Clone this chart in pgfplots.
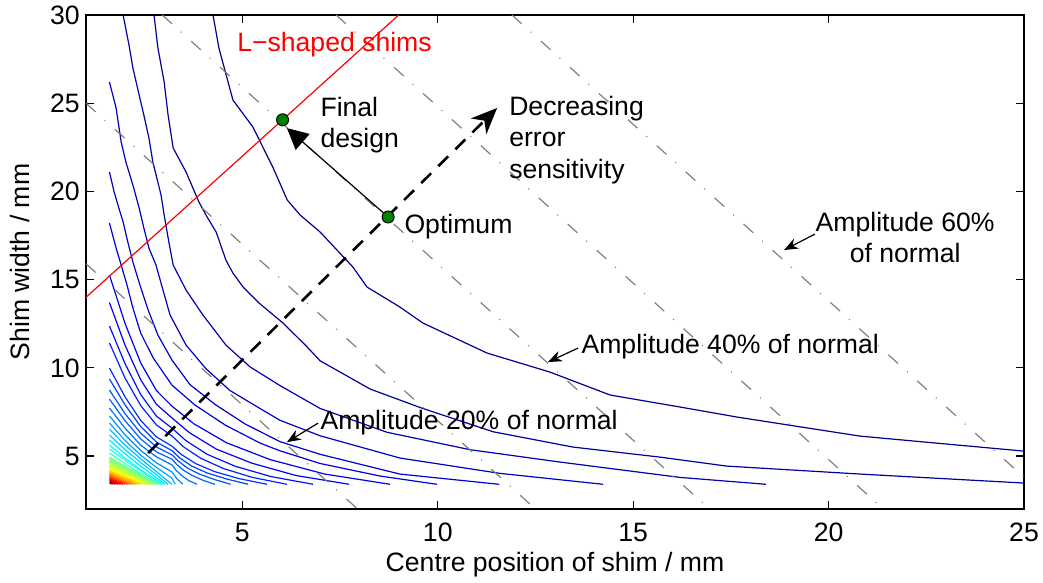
\documentclass[border=0pt]{standalone}
\usepackage{fontspec}
\setmainfont{Liberation Sans}
\usepackage{pgfplots}
\pgfplotsset{compat=1.18}
\usetikzlibrary{arrows.meta}
% contour line, jet colour given as 0-255 rgb
\newcommand\cl[4]{\addplot[cl, color={rgb,255:red,#1;green,#2;blue,#3}] coordinates {#4};}
\begin{document}
\begin{tikzpicture}[font=\fontsize{13.3}{15.5}\selectfont]
\begin{axis}[
  width=469pt, height=247pt, scale only axis,
  xmin=1, xmax=25, ymin=2, ymax=30,
  xtick={5,10,15,20,25}, ytick={5,10,15,20,25,30},
  tick align=inside, major tick length=4pt,
  tick style={black, line width=0.6pt},
  axis line style={black, line width=1pt},
  /pgf/number format/assume math mode=true,
  tick label style={font=\fontsize{13.3}{15}\selectfont, inner sep=0pt},
  xticklabel style={yshift=-7pt},
  yticklabel style={xshift=-3pt},
  label style={font=\fontsize{13.3}{15}\selectfont},
  xlabel={Centre position of shim / mm},
  ylabel={Shim width / mm},
  xlabel style={at={(axis description cs:0.5,-0.1134)}, anchor=center},
  ylabel style={at={(axis description cs:-0.0704,0.5)}, anchor=center},
  cl/.style={no markers, line width=0.6pt, line join=round},
  gl/.style={no markers, color={rgb,255:red,128;green,128;blue,128}, line width=0.6pt,
    dash pattern=on 6.5pt off 6pt on 0.5pt off 6.5pt},
]
% outer contours
\cl{0}{0}{143}{(4.25,30)(4.40,28.13)(4.76,25.18)(5.27,23.65)(5.79,21.33)(6.15,19.51)(6.48,18.66)(6.99,17.70)(7.83,15.71)(8.19,14.58)(9.03,13.45)(9.62,12.54)(11.26,10.84)(12.87,9.76)(14.41,8.46)(16.20,7.78)(17.66,7.21)(20.81,6.13)(25,5.28)}
\cl{0}{0}{159}{(2.74,30)(2.84,28.13)(3.00,26.20)(3.10,24.33)(3.23,22.46)(3.56,21.10)(3.89,19.40)(4.07,18.66)(4.33,17.70)(4.58,16.11)(4.76,15.37)(5.02,14.58)(5.43,13.67)(6.04,12.54)(6.63,11.25)(6.99,10.40)(8.27,8.80)(9.55,7.75)(11.41,6.38)(13.46,5.51)(15.69,4.94)(17.40,4.43)(20.81,3.98)(25,3.47)}
\cl{0}{0}{175}{(1.95,30)(2.10,28.30)(2.20,27.0)(2.36,25.46)(2.48,24.33)(2.61,23.03)(2.71,21.67)(2.92,19.80)(3.00,18.66)(3.12,17.13)(3.23,15.83)(3.56,14.41)(3.99,13.0)(4.58,11.29)(5.20,10.05)(5.96,9.0)(6.99,7.70)(8.70,6.35)(10.83,5.36)(13.13,4.66)(16.20,3.79)(18.40,3.4)}
\cl{0}{0}{191}{(1.6,26.20)(1.77,24.73)(1.90,22.80)(2.02,21.67)(2.20,20.36)(2.36,19.06)(2.48,17.93)(2.61,16.79)(2.79,15.83)(2.97,14.41)(3.15,13.0)(3.56,11.29)(4.07,9.95)(4.68,8.72)(5.45,7.70)(5.96,7.03)(6.99,6.15)(9.03,4.89)(11.59,4.02)(14.23,3.4)}
\cl{0}{0}{207}{(1.6,21.10)(1.72,19.97)(1.84,19.06)(1.95,18.27)(2.07,17.13)(2.20,16.0)(2.38,14.69)(2.59,13.28)(2.84,11.86)(3.20,10.44)(3.66,9.05)(4.30,7.93)(5.07,6.82)(5.96,5.82)(6.99,5.10)(9.03,3.98)(11.57,3.4)}
\cl{0}{0}{223}{(1.6,18.21)(1.77,16.79)(1.90,15.83)(2.05,14.69)(2.20,13.39)(2.40,11.97)(2.72,10.56)(3.20,9.02)(3.79,7.89)(4.56,6.76)(5.45,5.74)(5.96,5.30)(6.99,4.58)(8.52,3.87)(9.98,3.4)}
\cl{0}{0}{239}{(1.6,15.26)(2.0,12.51)(2.4,10.28)(2.8,8.72)(3.2,7.83)(3.76,6.83)(4.6,5.75)(5.71,4.80)(7.11,3.98)(8.78,3.4)}
\cl{0}{0}{255}{(1.6,13.7)(2.0,11.28)(2.4,9.32)(2.8,7.94)(3.2,7.16)(3.65,6.32)(4.33,5.40)(5.24,4.60)(6.37,3.90)(7.73,3.4)}
\cl{0}{16}{255}{(1.6,12.37)(2.0,10.23)(2.4,8.49)(2.8,7.27)(3.2,6.58)(3.56,5.87)(4.10,5.10)(4.82,4.42)(5.73,3.84)(6.81,3.4)}
\cl{0}{32}{255}{(1.6,11.41)(2.0,9.42)(2.4,7.86)(2.8,6.77)(3.2,6.14)(3.49,5.53)(3.94,4.87)(4.52,4.29)(5.26,3.79)(6.14,3.4)}
\cl{0}{48}{255}{(1.6,9.99)(2.0,8.35)(2.4,7.02)(2.8,6.09)(3.2,5.56)(3.44,5.09)(3.81,4.57)(4.29,4.12)(4.90,3.73)(5.63,3.4)}
\cl{0}{64}{255}{(1.6,9.37)(2.0,7.90)(2.4,6.67)(2.8,5.80)(3.2,5.31)(3.4,4.89)(3.7,4.44)(4.1,4.04)(4.6,3.70)(5.15,3.4)}
\cl{0}{80}{255}{(1.6,8.74)(2.0,7.40)(2.4,6.30)(2.8,5.52)(3.2,5.07)(3.36,4.72)(3.59,4.33)(3.90,3.98)(4.29,3.67)(4.70,3.4)}
\cl{0}{96}{255}{(1.6,8.23)(2.0,7.0)(2.4,5.97)(2.8,5.24)(3.2,4.82)(3.32,4.53)(3.49,4.2)(3.72,3.9)(4.0,3.62)(4.30,3.4)}
\cl{0}{112}{255}{(1.6,7.72)(2.0,6.58)(2.4,5.62)(2.8,4.96)(3.2,4.50)(3.30,4.20)(3.45,3.90)(3.62,3.62)(3.84,3.4)}
% light blue and cyan contours
\cl{0}{140}{255}{(1.6,7.27)(2.0,6.2)(2.4,5.32)(2.8,4.62)(3.2,4.10)(3.33,3.70)(3.48,3.4)}
\cl{0}{165}{255}{(1.6,6.87)(2.0,5.88)(2.4,5.05)(2.8,4.36)(3.2,3.75)(3.28,3.4)}
\cl{0}{190}{255}{(1.6,6.53)(2.0,5.62)(2.4,4.84)(2.8,4.12)(3.2,3.4)}
\cl{0}{212}{255}{(1.6,6.19)(2.0,5.36)(2.4,4.63)(2.8,3.95)(3.1,3.4)}
\cl{0}{235}{255}{(1.6,5.91)(2.0,5.13)(2.4,4.43)(2.8,3.78)(3.02,3.4)}
\cl{0}{255}{255}{(1.6,5.62)(2.0,4.88)(2.4,4.22)(2.97,3.4)}
\cl{35}{255}{221}{(1.6,5.40)(2.2,4.45)(2.92,3.4)}
\cl{70}{255}{185}{(1.6,5.17)(2.2,4.28)(2.87,3.4)}
\cl{106}{255}{150}{(1.6,4.94)(2.82,3.4)}
% dense contours near the corner
\cl{119}{255}{137}{(1.6,4.86)(2.79,3.4)}
\cl{128}{255}{128}{(1.6,4.80)(2.76,3.4)}
\cl{142}{255}{114}{(1.6,4.74)(2.73,3.4)}
\cl{156}{255}{100}{(1.6,4.68)(2.70,3.4)}
\cl{170}{255}{86}{(1.6,4.62)(2.67,3.4)}
\cl{184}{255}{72}{(1.6,4.56)(2.64,3.4)}
\cl{198}{255}{58}{(1.6,4.50)(2.60,3.4)}
\cl{211}{255}{45}{(1.6,4.44)(2.57,3.4)}
\cl{225}{255}{31}{(1.6,4.38)(2.54,3.4)}
\cl{239}{255}{17}{(1.6,4.32)(2.51,3.4)}
\cl{253}{255}{3}{(1.6,4.26)(2.48,3.4)}
\cl{255}{233}{0}{(1.6,4.20)(2.45,3.4)}
\cl{255}{208}{0}{(1.6,4.14)(2.39,3.4)}
\cl{255}{183}{0}{(1.6,4.08)(2.32,3.4)}
\cl{255}{157}{0}{(1.6,4.02)(2.26,3.4)}
\cl{255}{132}{0}{(1.6,3.96)(2.19,3.4)}
\cl{255}{102}{0}{(1.6,3.90)(2.13,3.4)}
\cl{255}{72}{0}{(1.6,3.84)(2.07,3.4)}
\cl{255}{41}{0}{(1.6,3.78)(2.00,3.4)}
\cl{255}{10}{0}{(1.6,3.72)(1.94,3.4)}
\cl{235}{0}{0}{(1.6,3.66)(1.88,3.4)}
\cl{204}{0}{0}{(1.6,3.60)(1.81,3.4)}
\cl{174}{0}{0}{(1.6,3.54)(1.75,3.4)}
\cl{143}{0}{0}{(1.6,3.48)(1.68,3.4)}
% lines of equal amplitude
\addplot[gl] coordinates {(1,15.9)(7.95,2)};
\addplot[gl] coordinates {(1,25)(12.5,2)};
\addplot[gl] coordinates {(2.95,30)(16.95,2)};
\addplot[gl] coordinates {(7.4,30)(21.4,2)};
\addplot[gl] coordinates {(11.9,30)(25,3.8)};
% L-shaped shims
\addplot[no markers, red, line width=0.6pt] coordinates {(1,14)(9,30)};
% arrows
\addplot[no markers, black, line width=1.3pt, dash pattern=on 7pt off 5pt,
  -{Stealth[length=13pt, width=11pt, inset=4pt]}] coordinates {(2.59,5.17)(11.52,24.73)};
\addplot[no markers, black, line width=0.6pt, -{Triangle[length=10.5pt, width=10.5pt]}]
  coordinates {(8.73,18.55)(6.14,23.59)};
\addplot[no markers, black, line width=0.6pt, -{Stealth[length=7pt, width=5.5pt]}]
  coordinates {(6.94,6.87)(6.14,5.79)};
\addplot[no markers, black, line width=0.6pt, -{Stealth[length=7pt, width=5.5pt]}]
  coordinates {(13.59,11.12)(12.82,10.33)};
\addplot[no markers, black, line width=0.6pt, -{Stealth[length=7pt, width=5.5pt]}]
  coordinates {(19.65,17.58)(18.86,16.68)};
% design points
\addplot[only marks, mark=*, mark size=3pt,
  mark options={fill={rgb,255:red,0;green,128;blue,0}, draw=black, line width=0.5pt}]
  coordinates {(6.03,24.06)(8.73,18.55)};
% labels
\node[inner sep=0pt, anchor=west, red] at (axis cs:4.86,28.3) {L−shaped shims};
\node[inner sep=0pt, anchor=west, align=left] at (axis cs:6.99,23.76) {Final\\design};
\node[inner sep=0pt, anchor=west] at (axis cs:9.14,17.98) {Optimum};
\node[inner sep=0pt, anchor=west, align=left, font=\fontsize{13.3}{15.8}\selectfont] at (axis cs:11.82,22.91) {Decreasing\\error\\sensitivity};
\node[inner sep=0pt, align=center] at (axis cs:21.96,17.4) {Amplitude 60\%\\of normal};
\node[inner sep=0pt, anchor=west] at (axis cs:13.67,11.18) {Amplitude 40\% of normal};
\node[inner sep=0pt, anchor=west] at (axis cs:6.99,6.87) {Amplitude 20\% of normal};
\end{axis}
\pgfresetboundingbox
\path (current axis.south west) ++(-43pt,-37pt) rectangle ([shift={(9.5pt,7.5pt)}]current axis.north east);
\end{tikzpicture}
\end{document}
